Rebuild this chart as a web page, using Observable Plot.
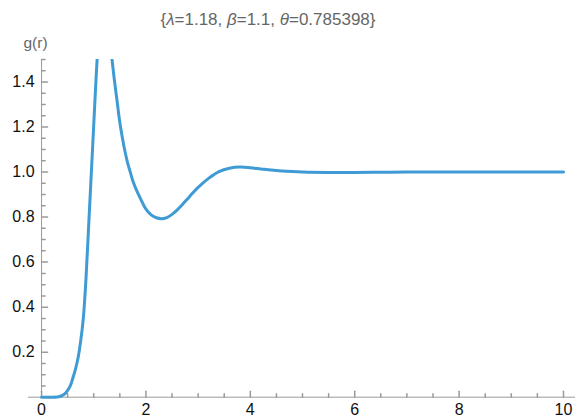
<!DOCTYPE html>
<html>
<head>
<meta charset="utf-8">
<script src="https://cdn.jsdelivr.net/npm/d3@7"></script>
<script src="https://cdn.jsdelivr.net/npm/@observablehq/plot@0.6"></script>
<style>
  html, body { margin: 0; padding: 0; background: #fff; }
  #wrap { position: relative; width: 586px; height: 417px; }
  #title { position: absolute; left: 0; width: 536px; top: 8px; text-align: center;
           font-family: 'Liberation Sans', Arial, sans-serif; font-size: 17px; color: #666; line-height: 24px; white-space: nowrap; }
  #chart svg { display: block; }
</style>
</head>
<body>
<div id="wrap">
  <div id="chart"></div>
  <div id="title"></div>
</div>
<script>
// Data
const rValues = [0, 0.1, 0.2, 0.3, 0.35, 0.4, 0.45, 0.5, 0.55, 0.6, 0.65, 0.7, 0.75, 0.8, 0.85, 0.9, 0.95, 1.0, 1.05, 1.1, 1.15, 1.2, 1.25, 1.3, 1.35, 1.4, 1.45, 1.5, 1.55, 1.6, 1.65, 1.7, 1.75, 1.8, 1.9, 2.0, 2.1, 2.2, 2.3, 2.4, 2.5, 2.6, 2.7, 2.8, 2.9, 3.0, 3.2, 3.4, 3.6, 3.8, 4.0, 4.2, 4.4, 4.6, 4.8, 5.0, 5.5, 6.0, 6.5, 7.0, 7.5, 8.0, 8.5, 9.0, 9.5, 10.0];
const gValues = [0, 0, 0, 0.001, 0.003, 0.008, 0.016, 0.03, 0.05, 0.085, 0.125, 0.175, 0.25, 0.35, 0.52, 0.75, 0.98, 1.21, 1.44, 1.62, 1.72, 1.74, 1.69, 1.60, 1.50, 1.40, 1.31, 1.22, 1.15, 1.09, 1.04, 1.0, 0.96, 0.93, 0.88, 0.835, 0.81, 0.797, 0.793, 0.798, 0.812, 0.832, 0.856, 0.882, 0.908, 0.932, 0.972, 1.002, 1.017, 1.022, 1.019, 1.014, 1.009, 1.005, 1.002, 1.0, 0.998, 0.998, 0.999, 1.0, 1.0, 1.0, 1.0, 1.0, 1.0, 1.0];

const xMajorTicks = [0, 2, 4, 6, 8, 10];
const xMinorTicks = [0.5, 1, 1.5, 2.5, 3, 3.5, 4.5, 5, 5.5, 6.5, 7, 7.5, 8.5, 9, 9.5];
const yMajorTicks = [0.2, 0.4, 0.6, 0.8, 1.0, 1.2, 1.4];
const yMinorTicks = [0.05, 0.1, 0.15, 0.25, 0.3, 0.35, 0.45, 0.5, 0.55, 0.65, 0.7, 0.75, 0.85, 0.9, 0.95, 1.05, 1.1, 1.15, 1.25, 1.3, 1.35, 1.45, 1.5];

// title parts: [text, italic?]
const titleParts = [["{", false], ["λ", true], ["=1.18, ", false], ["β", true], ["=1.1, ", false], ["θ", true], ["=0.785398}", false]];
const yLabel = "g(r)";

const data = rValues.map((r, i) => ({r, g: gValues[i]}));

const tickShape = {draw(context, l) { context.moveTo(0, 0); context.lineTo(0, -l); }};
const axisGray = "#9a9a9a";
const font = "'Liberation Sans', Arial, sans-serif";

const plot = Plot.plot({
  width: 586,
  height: 417,
  marginLeft: 28,
  marginRight: 11,
  marginTop: 59,
  marginBottom: 15.8,
  style: {fontFamily: font, background: "#fff"},
  x: {domain: [-0.25, 10.23], axis: null},
  y: {domain: [-0.02, 1.5], axis: null},
  marks: [
    // axis lines
    Plot.ruleY([0], {stroke: axisGray, strokeWidth: 1}),
    Plot.ruleX([0], {y1: 0, y2: 1.5, stroke: axisGray, strokeWidth: 1}),
    // x ticks (inward)
    Plot.vector(xMajorTicks, {x: d => d, y: 0, length: 6, rotate: 0, anchor: "start", shape: tickShape, stroke: axisGray}),
    Plot.vector(xMinorTicks, {x: d => d, y: 0, length: 3.5, rotate: 0, anchor: "start", shape: tickShape, stroke: axisGray}),
    // y ticks (inward)
    Plot.vector(yMajorTicks, {x: 0, y: d => d, length: 6, rotate: 90, anchor: "start", shape: tickShape, stroke: axisGray}),
    Plot.vector(yMinorTicks, {x: 0, y: d => d, length: 3.5, rotate: 90, anchor: "start", shape: tickShape, stroke: axisGray}),
    // tick labels
    Plot.text(xMajorTicks, {x: d => d, y: 0, text: d => String(d), dy: 12.5, fill: "#111", fontSize: 16}),
    Plot.text(yMajorTicks, {x: 0, y: d => d, text: d => d.toFixed(1), dx: -7, textAnchor: "end", fill: "#111", fontSize: 16}),
    // the curve
    Plot.line(data, {x: "r", y: "g", stroke: "#3e9bd3", strokeWidth: 3, curve: "catmull-rom", clip: true}),
    // y label
    Plot.text([yLabel], {frameAnchor: "top-left", dx: 7, dy: -16, textAnchor: "middle", lineAnchor: "middle", text: d => d, fill: "#666", fontSize: 15.5})
  ]
});

document.getElementById("chart").appendChild(plot);

const title = document.getElementById("title");
for (const [t, it] of titleParts) {
  const s = document.createElement(it ? "i" : "span");
  s.textContent = t;
  title.appendChild(s);
}
</script>
</body>
</html>
